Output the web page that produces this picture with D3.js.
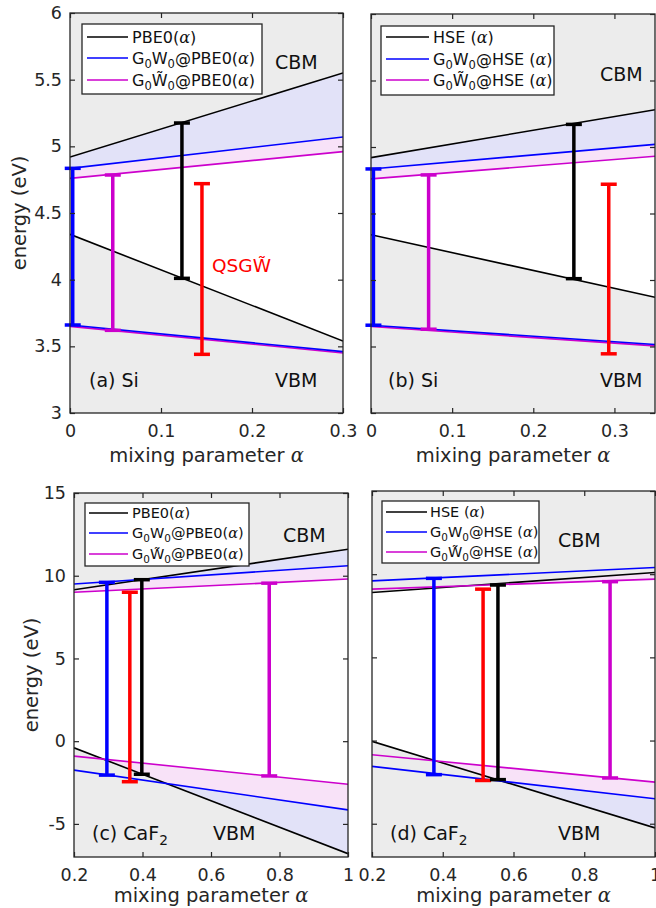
<!DOCTYPE html>
<html>
<head>
<meta charset="utf-8">
<script src="https://cdn.jsdelivr.net/npm/d3@7"></script>
<style>
  body { margin: 0; background: #fff; }
  svg { display: block; font-family: "DejaVu Sans", sans-serif; }
  .tick line { stroke: #262626; }
  .tick text { fill: #262626; }
</style>
</head>
<body>
<svg id="chart" width="656" height="908"></svg>
<script>
// ---- data ----
const panelTags = ['(a) Si', '(b) Si', '(c) CaF', '(d) CaF'];
const panelTagSub = ['', '', '2', '2'];
const hybridNames = ['PBE0', 'HSE', 'PBE0', 'HSE'];
const xDomains = [[0, 0.3], [0, 0.35], [0.2, 1], [0.2, 1]];
const yDomains = [[3, 6], [3, 6], [-7, 15], [-7, 15]];
const xTickValues = [[0, 0.1, 0.2, 0.3], [0, 0.1, 0.2, 0.3], [0.2, 0.4, 0.6, 0.8, 1], [0.2, 0.4, 0.6, 0.8, 1]];
const yTickValues = [[3, 3.5, 4, 4.5, 5, 5.5, 6], [3, 3.5, 4, 4.5, 5, 5.5, 6], [-5, 0, 5, 10, 15], [-5, 0, 5, 10, 15]];
const showYLabels = [true, false, true, false];

// band edges [alpha, energy] at the ends of each alpha range
const hybridCbm = [[[0, 4.92], [0.3, 5.55]], [[0, 4.92], [0.35, 5.28]], [[0.2, 9.15], [1, 11.6]], [[0.2, 8.9], [1, 10.1]]];
const hybridVbm = [[[0, 4.34], [0.3, 3.54]], [[0, 4.34], [0.35, 3.87]], [[0.2, -0.4], [1, -6.8]], [[0.2, -0.05], [1, -5.25]]];
const g0w0Cbm = [[[0, 4.835], [0.3, 5.07]], [[0, 4.835], [0.35, 5.02]], [[0.2, 9.5], [1, 10.6]], [[0.2, 9.6], [1, 10.4]]];
const g0w0Vbm = [[[0, 3.66], [0.3, 3.46]], [[0, 3.66], [0.35, 3.515]], [[0.2, -1.75], [1, -4.15]], [[0.2, -1.55], [1, -3.5]]];
const g0wtCbm = [[[0, 4.76], [0.3, 4.96]], [[0, 4.76], [0.35, 4.93]], [[0.2, 9.0], [1, 9.8]], [[0.2, 9.1], [1, 9.7]]];
const g0wtVbm = [[[0, 3.65], [0.3, 3.45]], [[0, 3.65], [0.35, 3.505]], [[0.2, -0.9], [1, -2.6]], [[0.2, -0.85], [1, -2.5]]];

// gap bars: series, alpha, VBM, CBM
const gapBars = [
  [['gw', 0.003, 3.66, 4.835], ['gwt', 0.047, 3.62, 4.785], ['hybrid', 0.123, 4.01, 5.175], ['qsgw', 0.145, 3.44, 4.72]],
  [['gw', 0.003, 3.66, 4.835], ['gwt', 0.071, 3.63, 4.79], ['hybrid', 0.25, 4.01, 5.17], ['qsgw', 0.293, 3.445, 4.72]],
  [['gw', 0.296, -2.05, 9.6], ['qsgw', 0.363, -2.45, 9.0], ['hybrid', 0.398, -2.0, 9.76], ['gwt', 0.77, -2.1, 9.55]],
  [['gw', 0.375, -2.05, 9.75], ['qsgw', 0.514, -2.4, 9.1], ['hybrid', 0.556, -2.35, 9.35], ['gwt', 0.873, -2.25, 9.55]]
];

// ---- layout ----
const boxes = [
  { l: 70, r: 343, t: 13, b: 413 },
  { l: 371, r: 655, t: 14, b: 413 },
  { l: 74, r: 348, t: 493, b: 857 },
  { l: 372, r: 655, t: 491, b: 857 }
];
const legendBoxes = [
  { x: 82, y: 24, w: 180, h: 70, rows: [37, 58, 80], lx: [87, 128], tx: 132, fs: 16 },
  { x: 381, y: 26, w: 173, h: 69, rows: [37, 59, 80], lx: [386, 429], tx: 433, fs: 16 },
  { x: 85, y: 503, w: 164, h: 63, rows: [513, 533, 554], lx: [89, 128], tx: 132, fs: 14.5 },
  { x: 382, y: 501, w: 157, h: 62, rows: [512, 532, 552], lx: [386, 427], tx: 430, fs: 14.5 }
];
const annot = [
  { cbm: [275, 69], vbm: [275, 387], tag: [89, 387] },
  { cbm: [600, 81], vbm: [600, 387], tag: [388, 387] },
  { cbm: [283, 542], vbm: [213, 840], tag: [92, 840] },
  { cbm: [558, 547], vbm: [558, 840], tag: [390, 840] }
];
const yLabelX = [26, null, 38, null];
const xLabelY = [462, 462, 902, 902];

const colors = { hybrid: '#000000', gw: '#0000ff', gwt: '#cc00cc', qsgw: '#ff0000' };
const fills = { hybrid: '#ececec', gw: '#e2e2f8', gwt: '#f8e2f8' };
const axisColor = '#262626';

const svg = d3.select('#chart');

function addRich(textSel, parts, size) {
  let shift = 0;
  parts.forEach(([str, kind]) => {
    const want = kind === 'sub' ? size * 0.28 : 0;
    const ts = textSel.append('tspan').text(str).attr('dy', want - shift);
    shift = want;
    if (kind === 'sub') ts.attr('font-size', size * 0.72);
    if (kind === 'greek') ts.attr('font-family', '"DejaVu Serif", serif').attr('font-style', 'italic');
  });
}

function legendParts(name, key) {
  const sp = name === 'HSE' ? ' ' : '';
  const tail = [['@' + name + sp + '(', ''], ['\u03B1', 'greek'], [')', '']];
  if (key === 'hybrid') return [[name + sp + '(', ''], ['\u03B1', 'greek'], [')', '']];
  const w = key === 'gw' ? 'W' : 'W\u0303';
  return [['G', ''], ['0', 'sub'], [w, ''], ['0', 'sub']].concat(tail);
}

boxes.forEach((bx, i) => {
  const g = svg.append('g').attr('class', 'panel');
  const x = d3.scaleLinear().domain(xDomains[i]).range([bx.l, bx.r]);
  const y = d3.scaleLinear().domain(yDomains[i]).range([bx.b, bx.t]);

  const clipId = 'clip' + i;
  svg.append('clipPath').attr('id', clipId)
    .append('rect').attr('x', bx.l).attr('y', bx.t).attr('width', bx.r - bx.l).attr('height', bx.b - bx.t);
  const plot = g.append('g').attr('clip-path', `url(#${clipId})`);

  // filled bands: painted pink, then blue, then grey on top
  const above = d3.area().x(d => x(d[0])).y0(d => y(d[1])).y1(bx.t);
  const below = d3.area().x(d => x(d[0])).y0(d => y(d[1])).y1(bx.b);
  [['gwt', g0wtCbm, g0wtVbm], ['gw', g0w0Cbm, g0w0Vbm], ['hybrid', hybridCbm, hybridVbm]].forEach(([key, cbm, vbm]) => {
    plot.append('path').attr('d', above(cbm[i])).attr('fill', fills[key]);
    plot.append('path').attr('d', below(vbm[i])).attr('fill', fills[key]);
  });

  const line = d3.line().x(d => x(d[0])).y(d => y(d[1]));
  [['hybrid', hybridCbm, hybridVbm], ['gwt', g0wtCbm, g0wtVbm], ['gw', g0w0Cbm, g0w0Vbm]].forEach(([key, cbm, vbm]) => {
    [cbm[i], vbm[i]].forEach(pts => {
      plot.append('path').attr('d', line(pts)).attr('fill', 'none')
        .attr('stroke', colors[key]).attr('stroke-width', 1.6);
    });
  });

  // gap bars
  const bars = g.selectAll('g.bar').data(gapBars[i]).join('g').attr('class', 'bar')
    .attr('stroke', d => colors[d[0]]).attr('stroke-width', 3.5);
  bars.append('line').attr('x1', d => x(d[1])).attr('x2', d => x(d[1]))
    .attr('y1', d => y(d[2])).attr('y2', d => y(d[3]));
  bars.append('line').attr('x1', d => x(d[1]) - 8).attr('x2', d => x(d[1]) + 8)
    .attr('y1', d => y(d[2])).attr('y2', d => y(d[2]));
  bars.append('line').attr('x1', d => x(d[1]) - 8).attr('x2', d => x(d[1]) + 8)
    .attr('y1', d => y(d[3])).attr('y2', d => y(d[3]));

  // axes, ticks pointing inward on all sides
  const tickFs = 17.5;
  const xb = g.append('g').attr('transform', `translate(0,${bx.b})`)
    .call(d3.axisBottom(x).tickValues(xTickValues[i]).tickFormat(d => String(d)).tickSizeInner(-5).tickSizeOuter(0).tickPadding(12));
  const xt = g.append('g').attr('transform', `translate(0,${bx.t})`)
    .call(d3.axisTop(x).tickValues(xTickValues[i]).tickFormat('').tickSizeInner(-5).tickSizeOuter(0));
  const yl = g.append('g').attr('transform', `translate(${bx.l},0)`)
    .call(d3.axisLeft(y).tickValues(yTickValues[i]).tickFormat(showYLabels[i] ? (d => String(d)) : '').tickSizeInner(-5).tickSizeOuter(0).tickPadding(8));
  const yr = g.append('g').attr('transform', `translate(${bx.r},0)`)
    .call(d3.axisRight(y).tickValues(yTickValues[i]).tickFormat('').tickSizeInner(-5).tickSizeOuter(0));
  [xb, xt, yl, yr].forEach(a => {
    a.select('.domain').remove();
    a.selectAll('.tick line').attr('stroke', axisColor).attr('stroke-width', 1.2);
    a.selectAll('.tick text').attr('font-size', tickFs).attr('font-family', '"DejaVu Sans", sans-serif').attr('fill', axisColor);
  });
  g.append('rect').attr('x', bx.l).attr('y', bx.t).attr('width', bx.r - bx.l).attr('height', bx.b - bx.t)
    .attr('fill', 'none').attr('stroke', axisColor).attr('stroke-width', 1.3);

  // axis labels
  const xl = g.append('text').attr('x', (bx.l + bx.r) / 2).attr('y', xLabelY[i])
    .attr('text-anchor', 'middle').attr('font-size', 19.5).attr('fill', axisColor);
  addRich(xl, [['mixing parameter ', ''], ['\u03B1', 'greek']], 19.5);
  if (yLabelX[i] !== null) {
    g.append('text').attr('transform', `translate(${yLabelX[i]},${(bx.t + bx.b) / 2}) rotate(-90)`)
      .attr('text-anchor', 'middle').attr('font-size', 19.5).attr('fill', axisColor)
      .text('energy (eV)');
  }

  // annotations
  const an = annot[i];
  g.append('text').attr('x', an.cbm[0]).attr('y', an.cbm[1]).attr('font-size', 19).attr('fill', '#111').text('CBM');
  g.append('text').attr('x', an.vbm[0]).attr('y', an.vbm[1]).attr('font-size', 19).attr('fill', '#111').text('VBM');
  const tag = g.append('text').attr('x', an.tag[0]).attr('y', an.tag[1]).attr('font-size', 19).attr('fill', '#111');
  addRich(tag, panelTagSub[i] ? [[panelTags[i], ''], [panelTagSub[i], 'sub']] : [[panelTags[i], '']], 19);

  if (i === 0) {
    g.append('text').attr('x', 212).attr('y', 272).attr('font-size', 18.5).attr('fill', colors.qsgw)
      .text('QSGW\u0303');
  }

  // legend
  const lb = legendBoxes[i];
  const leg = g.append('g').attr('class', 'legend');
  leg.append('rect').attr('x', lb.x).attr('y', lb.y).attr('width', lb.w).attr('height', lb.h)
    .attr('fill', '#fff').attr('stroke', axisColor).attr('stroke-width', 1.3);
  ['hybrid', 'gw', 'gwt'].forEach((key, r) => {
    leg.append('line').attr('x1', lb.lx[0]).attr('x2', lb.lx[1]).attr('y1', lb.rows[r]).attr('y2', lb.rows[r])
      .attr('stroke', colors[key]).attr('stroke-width', 1.6);
    const t = leg.append('text').attr('x', lb.tx).attr('y', lb.rows[r] + lb.fs * 0.36)
      .attr('font-size', lb.fs).attr('fill', '#111');
    addRich(t, legendParts(hybridNames[i], key), lb.fs);
  });
});
</script>
</body>
</html>
